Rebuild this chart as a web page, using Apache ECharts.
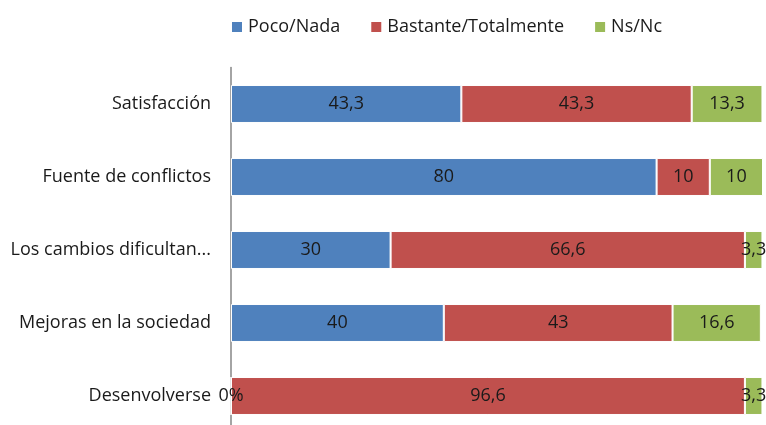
<!DOCTYPE html>
<html><head><meta charset="utf-8">
<script src="https://cdn.jsdelivr.net/npm/echarts@6/dist/echarts.min.js"></script>
<style>html,body{margin:0;padding:0;background:#fff;overflow:hidden}#c{width:766px;height:440px}</style>
</head><body><div id="c"></div>
<script>
const categories = ['Satisfacción','Fuente de conflictos','Los cambios dificultan...','Mejoras en la sociedad','Desenvolverse'];
const seriesNames = ['Poco/Nada','Bastante/Totalmente','Ns/Nc'];
const pocoNada = [43.3, 80, 30, 40, 0];
const bastante = [43.3, 10, 66.6, 43, 96.6];
const nsnc = [13.3, 10, 3.3, 16.6, 3.3];
const colors = ['#4F81BD','#C0504D','#9BBB59'];
const FONT = '"Open Sans", sans-serif';
const fmt = p => p.value === 0 ? '0%' : String(p.value).replace('.', ',');
const mk = (name, data, color) => ({
  name, type: 'bar', stack: 'total', data, barWidth: '52%',
  itemStyle: {color, borderColor: '#fff', borderWidth: 1},
  label: {show: true, position: 'inside', formatter: fmt, color: '#1a1a1a', fontSize: 18, fontFamily: FONT},
  emphasis: {disabled: true}
});
const chart = echarts.init(document.getElementById('c'));
chart.setOption({
  animation: false,
  legend: {top: 13, left: 225, itemWidth: 12, itemHeight: 12, itemGap: 29, icon: 'rect',
    textStyle: {fontSize: 18, color: '#1a1a1a', fontFamily: FONT}, data: seriesNames},
  grid: {left: 231, top: 67.5, width: 532, height: 365, containLabel: false},
  xAxis: {type: 'value', min: 0, max: 100, show: false},
  yAxis: {type: 'category', data: categories, inverse: true,
    axisLine: {show: true, lineStyle: {color: '#868686', width: 1.5}},
    axisTick: {show: false},
    axisLabel: {margin: 20, fontSize: 18, color: '#1a1a1a', fontFamily: FONT},
    splitLine: {show: false}},
  series: [mk(seriesNames[0], pocoNada, colors[0]), mk(seriesNames[1], bastante, colors[1]), mk(seriesNames[2], nsnc, colors[2])]
});
</script></body></html>
